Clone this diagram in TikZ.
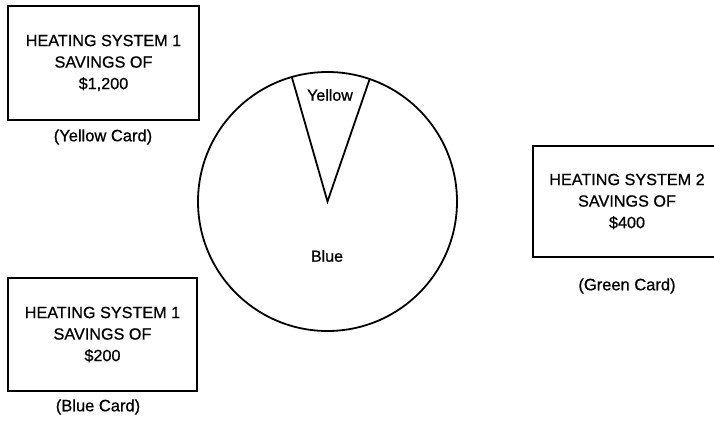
\documentclass[tikz,border=0pt]{standalone}
\usepackage{fontspec}
\setmainfont{Liberation Sans}[BoldFont={Liberation Sans},BoldFeatures={FakeBold=0.7}]
\usetikzlibrary{calc}
\begin{document}
\begin{tikzpicture}[x=1pt,y=1pt,
  card/.style={draw=black,line width=1.8pt,align=center,font=\fontsize{16.2}{21.5}\selectfont\bfseries,inner sep=0pt},
  caption/.style={font=\fontsize{16.5}{18}\selectfont\bfseries,inner sep=0pt},
  pielbl/.style={font=\fontsize{16}{18}\selectfont\bfseries,inner sep=0pt}]
\useasboundingbox (0,0) rectangle (714,-420);
\clip (0,0) rectangle (714,-420);
\fill[white] (0,0) rectangle (714,-420);
% cards
\node[card,minimum width=191pt,minimum height=114pt] (c1) at (103.5,-63) {HEATING SYSTEM 1\\SAVINGS OF\\\$1,200};
\node[caption] (l1) at (103,-137) {(Yellow Card)};
\node[card,minimum width=188pt,minimum height=111pt] (c2) at (627,-201.5) {HEATING SYSTEM 2\\SAVINGS OF\\\$400};
\node[caption] (l2) at (627,-286) {(Green Card)};
\node[card,minimum width=189pt,minimum height=113pt] (c3) at (102.5,-334.5) {HEATING SYSTEM 1\\SAVINGS OF\\\$200};
\node[caption] (l3) at (98,-407) {(Blue Card)};
% pie
\coordinate (o) at (327.5,-201.5);
\draw[line width=1.8pt] (o) circle (129.5);
\draw[line width=1.8pt,line join=miter] ($(o)+(106:129.5)$) -- (o) -- ($(o)+(71:129.5)$);
\node[pielbl] (y) at (330,-95) {Yellow};
\node[pielbl] (b) at (327,-256) {Blue};
\end{tikzpicture}
\end{document}
